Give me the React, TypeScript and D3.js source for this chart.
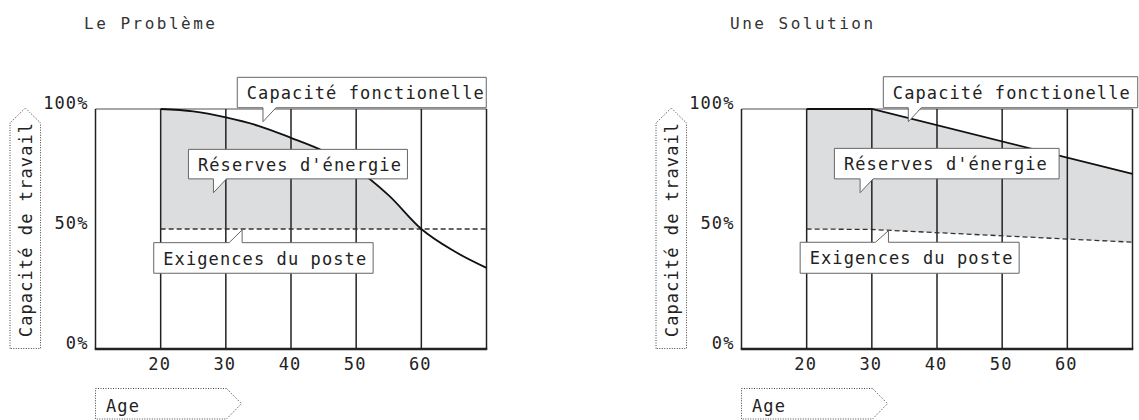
import React from 'react';
import * as d3 from 'd3';

// ---------- data ----------
const gridAges = [20, 30, 40, 50, 60, 70];
const ageTicks = [20, 30, 40, 50, 60];
const pctTicks = [0, 50, 100];
const pctLabels = ['0%', '50%', '100%'];

const problemAges = [20, 25, 30, 35, 40, 45, 50, 55, 60, 65, 70];
const problemCapacity = [100, 99, 96.5, 93, 88, 82.5, 75, 64, 50, 40.8, 33.8];
const problemDemandAges = [20, 70];
const problemDemand = [50, 50];

const solutionAges = [20, 30, 70];
const solutionCapacity = [100, 100, 73];
const solutionDemandAges = [20, 30, 70];
const solutionDemand = [50, 49.8, 44.5];

const titles = ['Le Problème', 'Une Solution'];
const calloutTexts = ['Capacité fonctionelle', "Réserves d'énergie", 'Exigences du poste'];
const yAxisLabel = 'Capacité de travail';
const xAxisLabel = 'Age';

// ---------- style ----------
const FONT = "'DejaVu Sans Mono', 'Liberation Mono', monospace";
const INK = '#222';
const FILL = '#dcdddf';
const FS = 17;
const LS = 1.1;

type Callout = {
  text: string;
  age: number;
  pct: number;
  dx: number;
  dy: number;
  w: number;
  h: number;
  tail: 'down' | 'up';
};

type PanelSpec = {
  offset: number;
  title: string;
  ages: number[];
  capacity: number[];
  demandAges: number[];
  demand: number[];
  shadeTo: number;
  curve: d3.CurveFactory;
  callouts: Callout[];
};

const panels: PanelSpec[] = [
  {
    offset: 0,
    title: titles[0],
    ages: problemAges,
    capacity: problemCapacity,
    demandAges: problemDemandAges,
    demand: problemDemand,
    shadeTo: 60,
    curve: d3.curveMonotoneX,
    callouts: [
      { text: calloutTexts[0], age: 35.7, pct: 94.7, dx: -25.7, dy: -44.4, w: 249, h: 30.4, tail: 'down' },
      { text: calloutTexts[1], age: 28.1, pct: 65.1, dx: -25, dy: -43.4, w: 219, h: 29.5, tail: 'down' },
      { text: calloutTexts[2], age: 32.5, pct: 49.6, dx: -88.4, dy: 12.7, w: 219.4, h: 30.6, tail: 'up' },
    ],
  },
  {
    offset: 646,
    title: titles[1],
    ages: solutionAges,
    capacity: solutionCapacity,
    demandAges: solutionDemandAges,
    demand: solutionDemand,
    shadeTo: 70,
    curve: d3.curveLinear,
    callouts: [
      { text: calloutTexts[0], age: 35.6, pct: 94.7, dx: -25, dy: -45, w: 254.4, h: 31, tail: 'down' },
      { text: calloutTexts[1], age: 28.2, pct: 65.1, dx: -25.7, dy: -44.4, w: 224.7, h: 30.5, tail: 'down' },
      { text: calloutTexts[2], age: 32.55, pct: 49.3, dx: -88.3, dy: 11.6, w: 219, h: 31, tail: 'up' },
    ],
  },
];

function Panel({ p, idx }: { p: PanelSpec; idx: number }) {
  const x = d3.scaleLinear().domain([10, 70]).range([95.5 + p.offset, 486.5 + p.offset]);
  const y = d3.scaleLinear().domain([0, 100]).range([349, 109]);
  const x0 = x(10);
  const x1 = x(70);

  const capPts = p.ages.map((a, i) => [a, p.capacity[i]] as [number, number]);
  const demPts = p.demandAges.map((a, i) => [a, p.demand[i]] as [number, number]);
  const demandAt = d3.scaleLinear().domain(p.demandAges).range(p.demand);

  const line = d3.line<[number, number]>().x(d => x(d[0])).y(d => y(d[1])).curve(p.curve);
  const dline = d3.line<[number, number]>().x(d => x(d[0])).y(d => y(d[1]));
  const area = d3
    .area<[number, number]>()
    .x(d => x(d[0]))
    .y0(d => y(demandAt(d[0])))
    .y1(d => y(d[1]))
    .curve(p.curve);

  const clipId = `clip${idx}`;

  return (
    <g>
      <defs>
        <clipPath id={clipId}>
          <rect x={x(20)} y={0} width={x(p.shadeTo) - x(20)} height={420} />
        </clipPath>
      </defs>
      <text x={84 + p.offset} y={29} fontFamily={FONT} fontSize={16} letterSpacing={2.5} fill="#333">
        {p.title}
      </text>

      {/* shaded reserve */}
      <path d={area(capPts) || ''} fill={FILL} clipPath={`url(#${clipId})`} />

      {/* frame */}
      <line x1={x0} x2={x1} y1={y(100)} y2={y(100)} stroke="#8a8a8a" strokeWidth={1.5} />
      <line x1={x0} x2={x0} y1={y(100)} y2={y(0)} stroke={INK} strokeWidth={1.5} />
      {gridAges.map(a => (
        <line key={a} x1={x(a)} x2={x(a)} y1={y(100)} y2={y(0)} stroke={INK} strokeWidth={1.5} />
      ))}
      <line x1={x0 - 0.75} x2={x1 + 0.75} y1={y(0)} y2={y(0)} stroke={INK} strokeWidth={2.5} />

      {/* series */}
      <path d={dline(demPts) || ''} fill="none" stroke="#333" strokeWidth={1.3} strokeDasharray="5,3" />
      <path d={line(capPts) || ''} fill="none" stroke="#111" strokeWidth={1.8} />

      {/* ticks */}
      {pctTicks.map((v, i) => (
        <text key={v} x={x0 - 7} y={y(v)} textAnchor="end" fontFamily={FONT} fontSize={FS} letterSpacing={LS} fill={INK}>
          {pctLabels[i]}
        </text>
      ))}
      {ageTicks.map(a => (
        <text key={a} x={x(a) - 1} y={370} textAnchor="middle" fontFamily={FONT} fontSize={FS} letterSpacing={LS} fill={INK}>
          {a}
        </text>
      ))}

      {/* y axis label */}
      <path
        d={`M${x0 - 85.5},348.5 V123 L${x0 - 70.2},108 L${x0 - 55},123 V348.5 Z`}
        fill="none"
        stroke="#444"
        strokeWidth={1}
        strokeDasharray="1,1.5"
      />
      <text
        transform={`translate(${x0 - 64},229.5) rotate(-90)`}
        textAnchor="middle"
        fontFamily={FONT}
        fontSize={FS}
        letterSpacing={LS}
        fill={INK}
      >
        {yAxisLabel}
      </text>

      {/* x axis label */}
      <path
        d={`M${x0},388.5 H${x0 + 131} L${x0 + 146},403.7 L${x0 + 131},419 H${x0} Z`}
        fill="none"
        stroke="#444"
        strokeWidth={1}
        strokeDasharray="1,1.5"
      />
      <text x={x0 + 10.5} y={411.5} fontFamily={FONT} fontSize={FS} letterSpacing={LS} fill={INK}>
        {xAxisLabel}
      </text>

      {/* callouts */}
      {p.callouts.map((c, i) => {
        const tx = x(c.age);
        const ty = y(c.pct);
        const L = tx + c.dx;
        const T = ty + c.dy;
        const R = L + c.w;
        const B = T + c.h;
        const tw = 13;
        const d =
          c.tail === 'down'
            ? `M${L},${T} H${R} V${B} H${tx + tw} L${tx},${ty} V${B} H${L} Z`
            : `M${L},${T} H${tx - tw} L${tx},${ty} V${T} H${R} V${B} H${L} Z`;
        return (
          <g key={i}>
            <path d={d} fill="#fff" stroke="#666" strokeWidth={1} />
            <text x={L + 9.5} y={T + 22} fontFamily={FONT} fontSize={FS} letterSpacing={LS} fill={INK}>
              {c.text}
            </text>
          </g>
        );
      })}
    </g>
  );
}

export default function App() {
  return (
    <svg
      width={1139}
      height={420}
      viewBox="0 0 1139 420"
      style={{ position: 'absolute', left: 0, top: 0, background: '#fff' }}
    >
      <rect width={1139} height={420} fill="#fff" />
      {panels.map((p, i) => (
        <Panel key={i} p={p} idx={i} />
      ))}
    </svg>
  );
}
